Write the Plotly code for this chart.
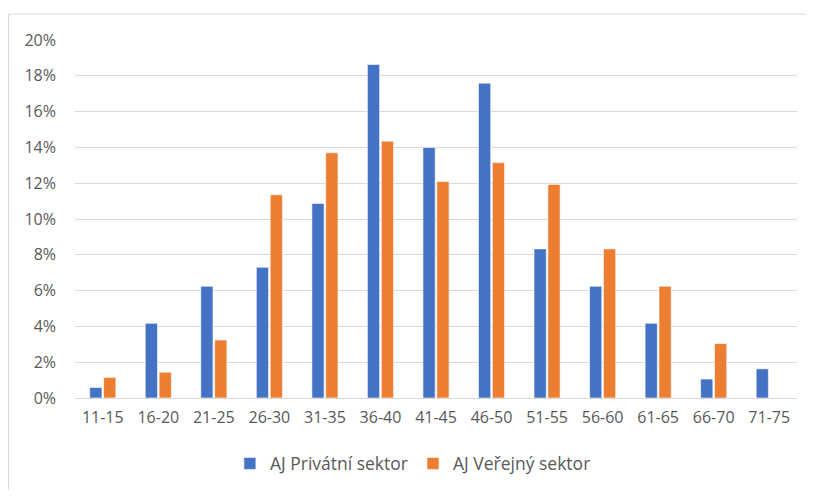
import plotly.graph_objects as go

categories = ["11-15", "16-20", "21-25", "26-30", "31-35", "36-40", "41-45",
              "46-50", "51-55", "56-60", "61-65", "66-70", "71-75"]
privatni = [0.59, 4.17, 6.24, 7.30, 10.87, 18.63, 14.00, 17.59, 8.33, 6.24, 4.17, 1.06, 1.63]
verejny = [1.15, 1.44, 3.24, 11.35, 13.70, 14.35, 12.09, 13.15, 11.93, 8.33, 6.24, 3.04, 0.0]
series_names = ["AJ Privátní sektor", "AJ Veřejný sektor"]
y_ticks = [0, 2, 4, 6, 8, 10, 12, 14, 16, 18, 20]

fig = go.Figure()
fig.add_trace(go.Bar(x=categories, y=[v / 100 for v in privatni], name=series_names[0],
                     marker=dict(color="#4472C4", line=dict(color="white", width=0.6))))
fig.add_trace(go.Bar(x=categories, y=[v / 100 for v in verejny], name=series_names[1],
                     marker=dict(color="#ED7D31", line=dict(color="white", width=0.6))))

font_family = "Open Sans, Liberation Sans, sans-serif"
# page body has an 8px margin, so the figure sits at (8, 8) in the window;
# size the figure so the page does not overflow the 814x498 window
W, H = 798, 482
L, T, R, B = 67, 32, 9, 90
PW, PH = W - L - R, H - T - B
fig.update_layout(
    width=W, height=H,
    margin=dict(l=L, r=R, t=T, b=B),
    paper_bgcolor="white", plot_bgcolor="white",
    barmode="group", bargap=0.5, bargroupgap=0.12,
    font=dict(family=font_family, size=16, color="#595959"),
    showlegend=True,
    legend=dict(orientation="h", x=0.468, xanchor="center", y=-0.183, yanchor="middle",
                font=dict(size=17.5, color="#595959"), itemwidth=30, traceorder="normal"),
    xaxis=dict(showgrid=False, showline=False, zeroline=False, ticks="",
               ticklabelstandoff=8, tickfont=dict(size=16, color="#595959")),
    yaxis=dict(range=[0, 0.2], tickvals=[t / 100 for t in y_ticks],
               ticktext=[f"{t}%" for t in y_ticks],
               showgrid=True, gridcolor="#D9D9D9", gridwidth=1,
               zeroline=True, zerolinecolor="#D9D9D9", zerolinewidth=1,
               showline=False, ticks="", ticklabelstandoff=18,
               tickfont=dict(size=16, color="#595959")),
)

# chart frame border (Excel-style): left edge at window x=8, top edge at window y=14
top_y = ((H - B) - 6) / PH
left_x = (0.5 - L) / PW
fig.add_shape(type="line", xref="paper", yref="paper",
              x0=left_x, x1=2.0, y0=top_y, y1=top_y,
              line=dict(color="#D9D9D9", width=1), layer="below")
fig.add_shape(type="line", xref="paper", yref="paper",
              x0=left_x, x1=left_x, y0=-2.0, y1=top_y,
              line=dict(color="#D9D9D9", width=1), layer="below")

fig.write_html("out.html")
